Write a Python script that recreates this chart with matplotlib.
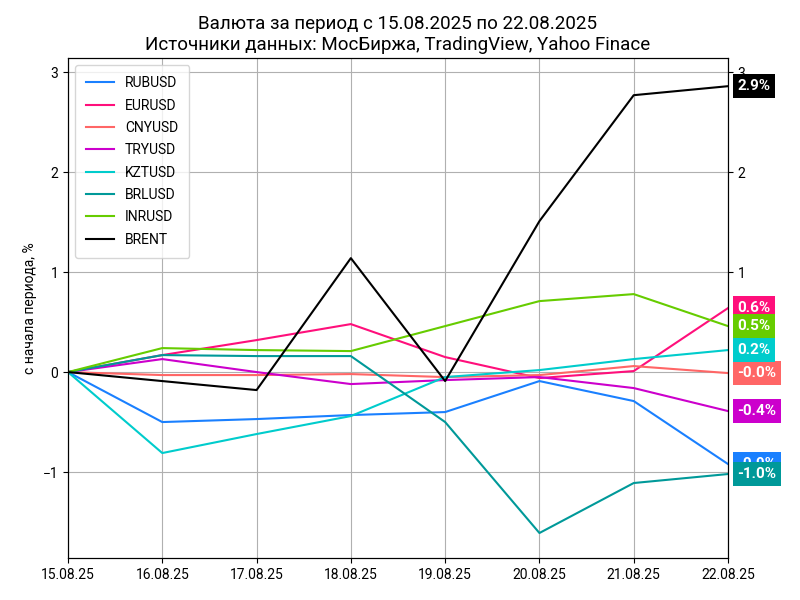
import matplotlib.pyplot as plt

plt.rcParams['font.family'] = ['Roboto', 'DejaVu Sans']

dates = ["15.08.25", "16.08.25", "17.08.25", "18.08.25", "19.08.25", "20.08.25", "21.08.25", "22.08.25"]
rubusd = [0, -0.50, -0.47, -0.43, -0.40, -0.09, -0.29, -0.92]
eurusd = [0, 0.17, 0.32, 0.48, 0.15, -0.06, 0.01, 0.64]
cnyusd = [0, -0.03, -0.03, -0.02, -0.05, -0.03, 0.06, -0.01]
tryusd = [0, 0.13, 0.00, -0.12, -0.08, -0.05, -0.16, -0.39]
kztusd = [0, -0.81, -0.62, -0.44, -0.05, 0.02, 0.13, 0.22]
brlusd = [0, 0.17, 0.16, 0.16, -0.50, -1.61, -1.11, -1.02]
inrusd = [0, 0.24, 0.22, 0.21, 0.46, 0.71, 0.78, 0.46]
brent = [0, -0.09, -0.18, 1.14, -0.09, 1.51, 2.77, 2.86]

series = [
    ("RUBUSD", rubusd, "#1a80ff"),
    ("EURUSD", eurusd, "#ff0f7b"),
    ("CNYUSD", cnyusd, "#ff6666"),
    ("TRYUSD", tryusd, "#cc00cc"),
    ("KZTUSD", kztusd, "#00cccc"),
    ("BRLUSD", brlusd, "#009999"),
    ("INRUSD", inrusd, "#66cc00"),
    ("BRENT", brent, "#000000"),
]

fig, ax = plt.subplots(figsize=(8, 6), dpi=100)
x = list(range(len(dates)))
for name, vals, color in series:
    ax.plot(x, vals, color=color, label=name, lw=1.5)

ax.set_xlim(0, len(dates) - 1)
ax.set_ylim(-1.86, 3.14)
ax.set_xticks(x)
ax.set_xticklabels(dates)
ax.set_yticks([-1, 0, 1, 2, 3])
ax.grid(True, color="#b0b0b0")
ax.set_ylabel("с начала периода, %")
ax.legend(loc="upper left", borderpad=0.8, labelspacing=0.6)
ax.set_title("Валюта за период с 15.08.2025 по 22.08.2025\nИсточники данных: МосБиржа, TradingView, Yahoo Finace", fontsize=13.5)

ax2 = ax.twinx()
ax2.set_ylim(ax.get_ylim())
ax2.set_yticks([1, 2, 3])

for name, vals, color in series:
    ax2.text(len(dates) - 1 + 0.1, vals[-1], f"{vals[-1]:.1f}%", color="white",
             fontweight="bold", fontsize=11, va="center", ha="left",
             bbox=dict(facecolor=color, edgecolor="none", pad=3.5), clip_on=False)

fig.subplots_adjust(left=0.085, right=0.91, top=0.903, bottom=0.07)
fig.savefig("out.png")
